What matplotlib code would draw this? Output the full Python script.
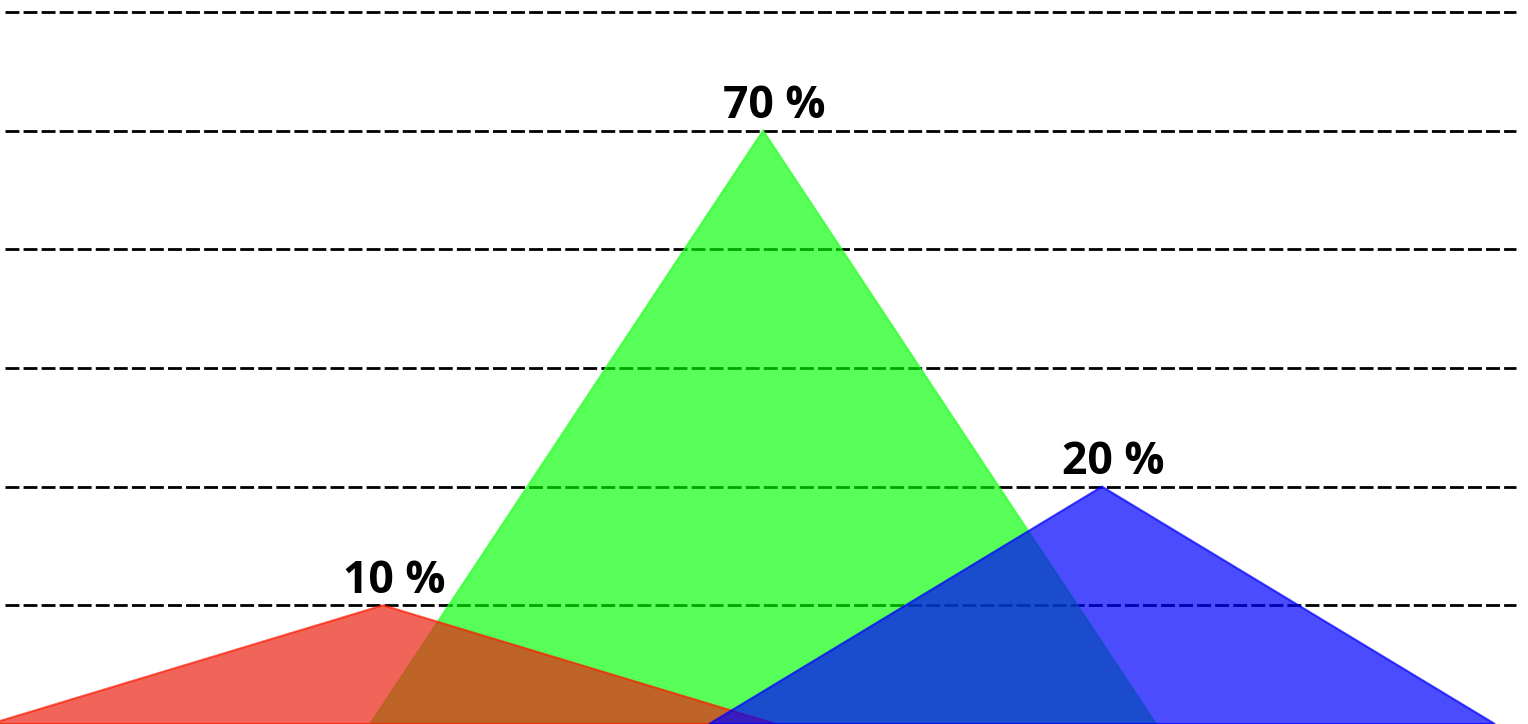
import numpy as np
import matplotlib.pyplot as plt
from matplotlib.patches import Polygon

# values
labels = ["10 %", "70 %", "20 %"]
centers = [1.0, 2.0, 2.892]      # x position of each apex
heights = [1.0, 5.0, 2.0]        # apex height, in gridline steps
face_colors = ["#ea2214", "#00ff00", "#0000ff"]
edge_colors = ["#ff1a00", "#22ff22", "#0000ff"]
alphas = [0.7, 0.65, 0.7]
draw_order = [1, 0, 2]           # green below red below blue
grid_levels = [1, 2, 3, 4, 5, 6]
half_width = 1.034

fig = plt.figure(figsize=(15.28, 7.24), dpi=100)
ax = fig.add_axes([0, 0, 1, 1])
ax.set_xlim(-0.008, 4.013)
ax.set_ylim(0, 6.1)
ax.axis("off")

for lvl in grid_levels:
    ax.axhline(lvl, xmin=0.003, xmax=0.992, color="black", lw=2.0,
               ls=(0, (5, 1.5)), zorder=0)

for z, i in enumerate(draw_order):
    c, h = centers[i], heights[i]
    tri = Polygon([[c - half_width, 0], [c, h], [c + half_width, 0]],
                  closed=True, facecolor=face_colors[i],
                  edgecolor=edge_colors[i], lw=1.5, alpha=alphas[i],
                  zorder=2 + z)
    ax.add_patch(tri)

for i in range(len(labels)):
    ax.annotate(labels[i], (centers[i], heights[i]), xytext=(8, 1),
                textcoords="offset points", ha="center", va="bottom",
                fontsize=32, fontweight="bold", family="Open Sans",
                color="black", zorder=10)

fig.savefig("out.png", dpi=100)
